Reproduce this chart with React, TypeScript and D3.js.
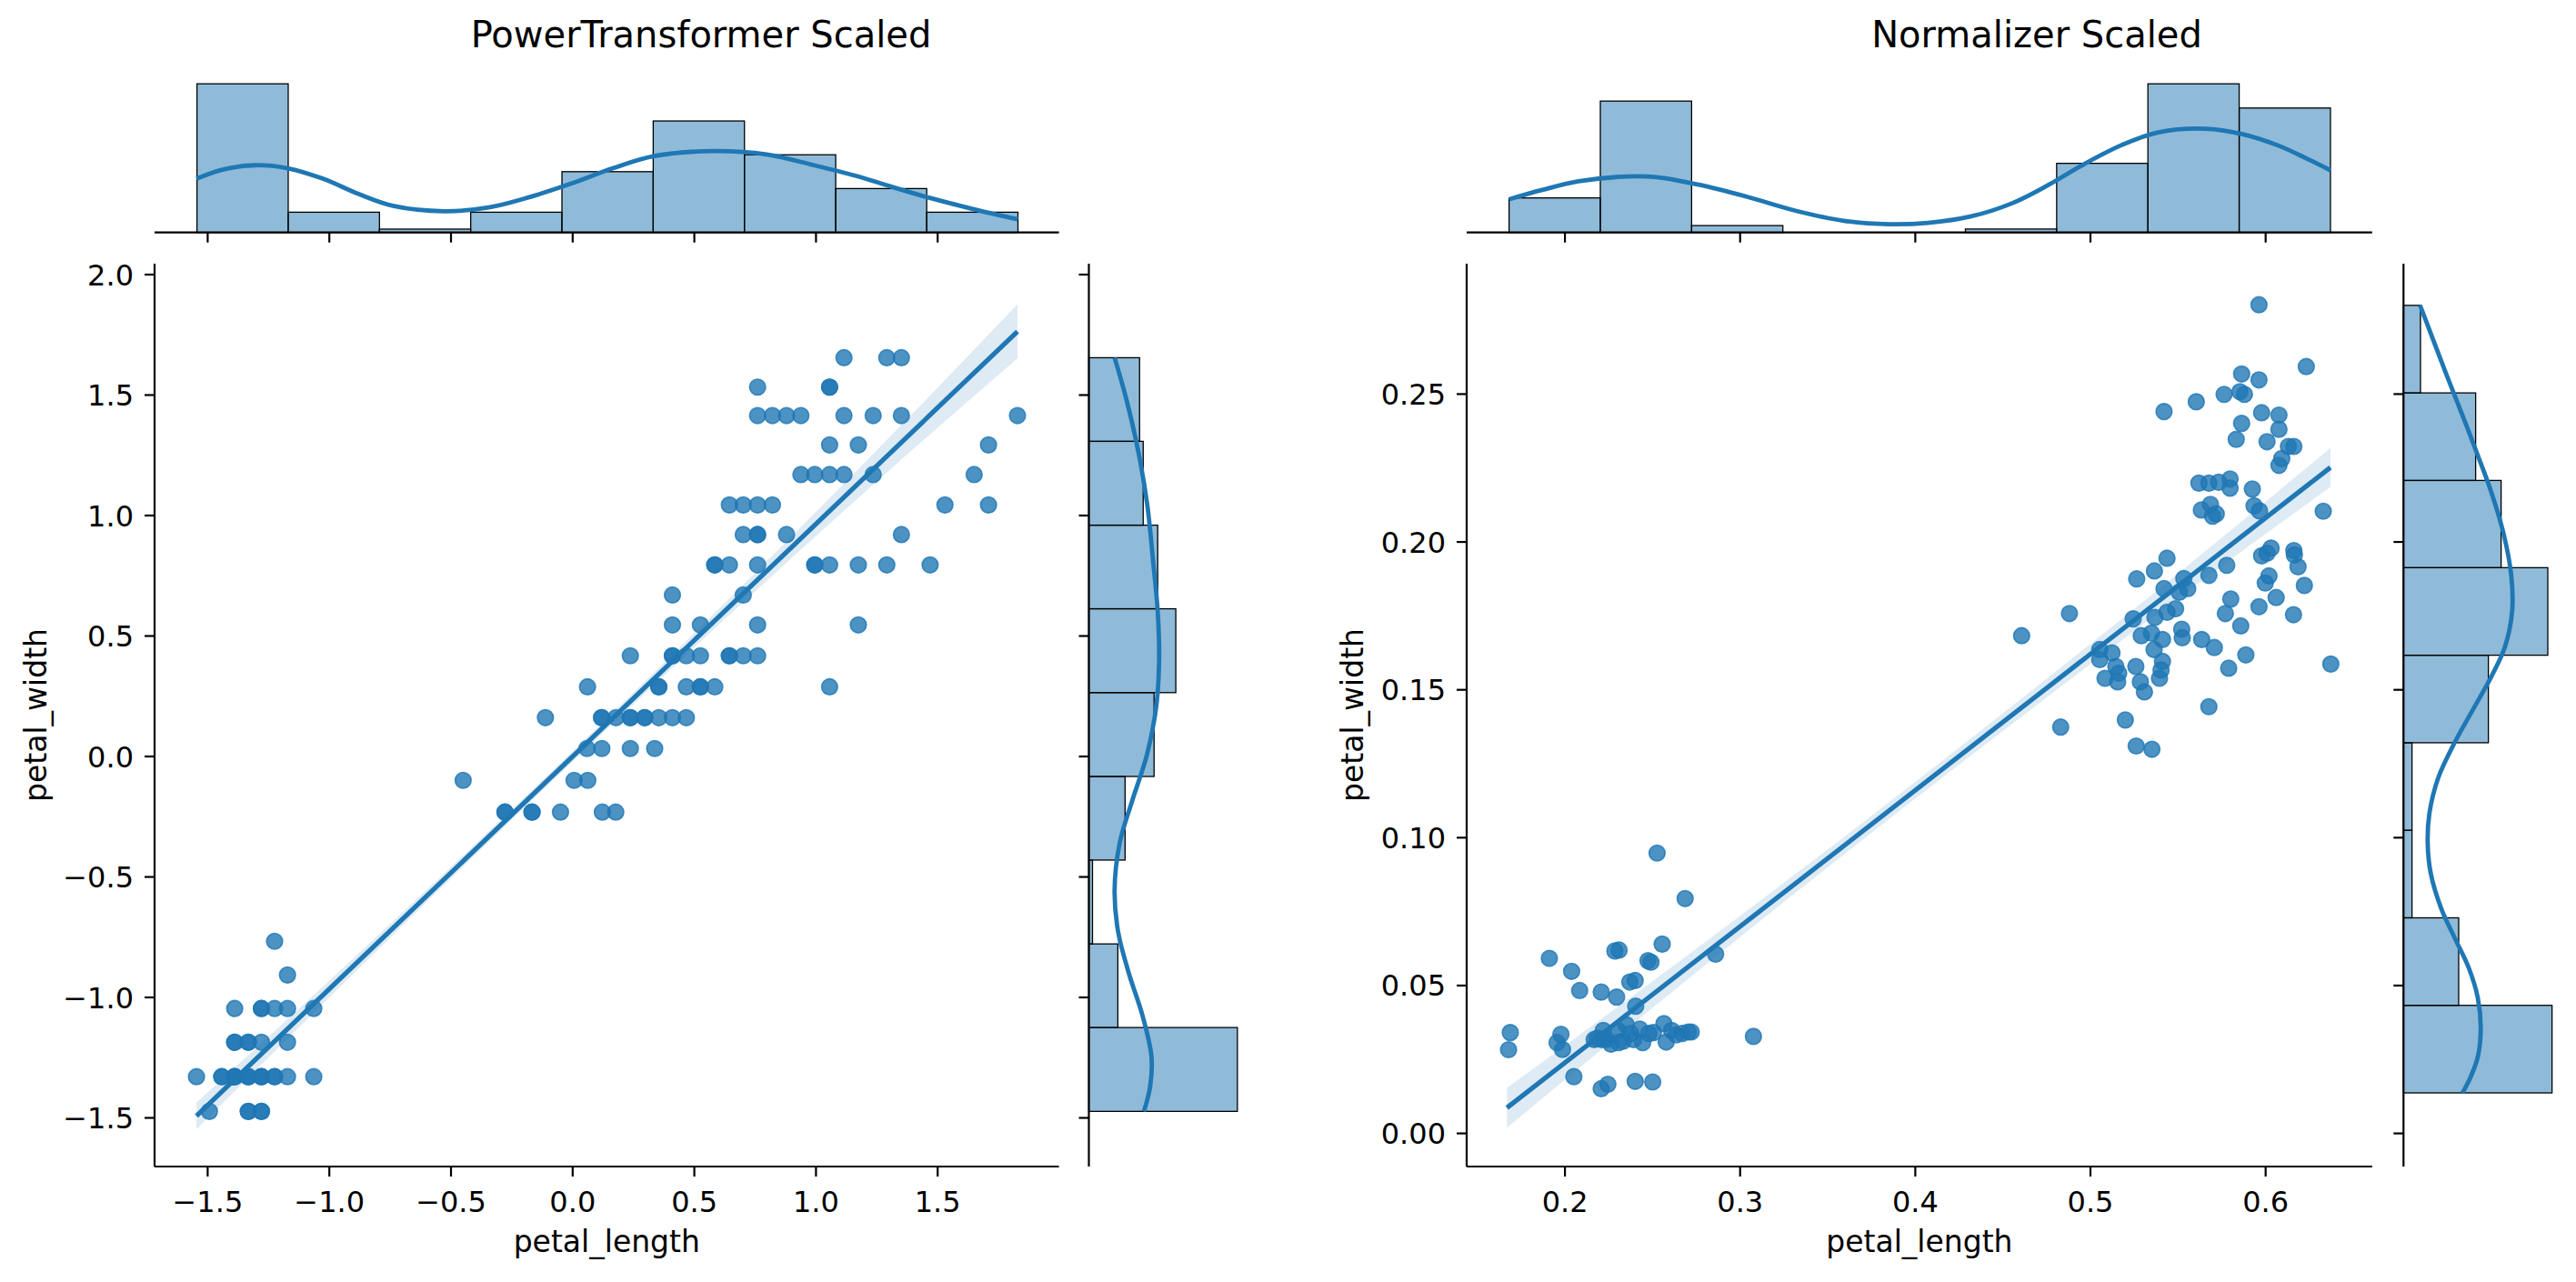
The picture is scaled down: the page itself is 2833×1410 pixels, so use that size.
import React from "react";
import * as d3 from "d3";

const W = 2833;
const H = 1410;
const BLUE = "#1f77b4";
const FONT = "DejaVu Sans, Verdana, sans-serif";

// ---------- PowerTransformer scaled (petal_length, petal_width) ----------
const ptPoints: [number, number][] = [
  [-1.493, -1.473], [-1.333, -1.473], [-1.333, -1.473], [-1.279, -1.473], [-1.279, -1.473],
  [-1.546, -1.329], [-1.442, -1.329], [-1.442, -1.329], [-1.389, -1.329], [-1.389, -1.329],
  [-1.389, -1.329], [-1.333, -1.329], [-1.333, -1.329], [-1.333, -1.329], [-1.279, -1.329],
  [-1.279, -1.329], [-1.279, -1.329], [-1.225, -1.329], [-1.225, -1.329], [-1.172, -1.329],
  [-1.064, -1.329],
  [-1.389, -1.186], [-1.389, -1.186], [-1.333, -1.186], [-1.333, -1.186], [-1.279, -1.186], [-1.172, -1.186],
  [-1.389, -1.046], [-1.279, -1.046], [-1.279, -1.046], [-1.225, -1.046], [-1.172, -1.046], [-1.064, -1.046],
  [-1.172, -0.907], [-1.225, -0.767],
  [-0.278, -0.231], [-0.278, -0.231], [-0.167, -0.231], [-0.167, -0.231], [-0.05, -0.231], [0.122, -0.231], [0.177, -0.231],
  [-0.45, -0.099], [0.006, -0.099], [0.062, -0.099],
  [0.059, 0.033], [0.12, 0.033], [0.237, 0.033], [0.337, 0.033],
  [-0.112, 0.161], [0.119, 0.161], [0.119, 0.161], [0.178, 0.161], [0.237, 0.161], [0.237, 0.161],
  [0.296, 0.161], [0.296, 0.161], [0.354, 0.161], [0.41, 0.161], [0.467, 0.161],
  [0.061, 0.289], [0.354, 0.289], [0.354, 0.289], [0.467, 0.289], [0.525, 0.289], [0.525, 0.289],
  [0.584, 0.289], [1.056, 0.289],
  [0.237, 0.418], [0.41, 0.418], [0.41, 0.418], [0.467, 0.418], [0.525, 0.418], [0.644, 0.418],
  [0.644, 0.418], [0.701, 0.418], [0.76, 0.418],
  [0.41, 0.546], [0.525, 0.546], [0.76, 0.546], [1.174, 0.546],
  [0.41, 0.67], [0.701, 0.67],
  [0.584, 0.795], [0.584, 0.795], [0.644, 0.795], [0.76, 0.795], [0.995, 0.795], [0.995, 0.795],
  [1.056, 0.795], [1.174, 0.795], [1.291, 0.795], [1.469, 0.795],
  [0.701, 0.921], [0.76, 0.921], [0.76, 0.921], [0.879, 0.921], [1.351, 0.921],
  [0.644, 1.044], [0.701, 1.044], [0.76, 1.044], [0.821, 1.044], [1.53, 1.044], [1.709, 1.044],
  [0.938, 1.17], [0.995, 1.17], [1.056, 1.17], [1.115, 1.17], [1.235, 1.17], [1.65, 1.17],
  [1.056, 1.293], [1.174, 1.293], [1.709, 1.293],
  [0.76, 1.415], [0.821, 1.415], [0.879, 1.415], [0.938, 1.415], [1.115, 1.415], [1.235, 1.415],
  [1.351, 1.415], [1.828, 1.415],
  [0.76, 1.533], [1.056, 1.533], [1.056, 1.533],
  [1.115, 1.655], [1.291, 1.655], [1.351, 1.655],
];
const ptFit = { x0: -1.546, x1: 1.828, slope: 0.965, intercept: 0.0 };
const ptBand: [number, number][] = [
  [-1.546, 0.055], [-1.0, 0.035], [-0.5, 0.024], [0, 0.022], [0.5, 0.03], [1.0, 0.05], [1.4, 0.075], [1.828, 0.112],
];
const ptLengthEdges = [-1.544, -1.169, -0.794, -0.419, -0.044, 0.331, 0.706, 1.081, 1.455, 1.83];
const ptLengthCounts = [44, 6, 1, 6, 18, 33, 23, 13, 6];
const ptWidthEdges = [-1.473, -1.125, -0.778, -0.43, -0.083, 0.265, 0.613, 0.96, 1.308, 1.655];
const ptWidthCounts = [41, 8, 1, 10, 18, 24, 19, 15, 14];
const ptLengthKde: [number, number][] = [
  [-1.546, 15.9], [-1.439, 18.6], [-1.306, 19.9], [-1.172, 19.0], [-1.026, 15.9], [-0.88, 11.4],
  [-0.734, 7.8], [-0.528, 6.3], [-0.345, 7.4], [-0.175, 10.5], [-0.005, 14.5], [0.165, 19.0],
  [0.335, 22.6], [0.578, 24.1], [0.797, 23.1], [0.992, 19.9], [1.162, 16.8], [1.308, 13.6],
  [1.454, 10.5], [1.648, 6.9], [1.83, 3.9],
];
const ptWidthKde: [number, number][] = [
  [-1.473, 15.2], [-1.371, 16.9], [-1.248, 17.3], [-1.075, 14.8], [-0.903, 11.1], [-0.73, 8.1],
  [-0.557, 7.1], [-0.36, 8.5], [-0.187, 11.9], [0.011, 16.1], [0.208, 18.6], [0.405, 19.4],
  [0.603, 19.0], [0.8, 17.8], [1.047, 16.1], [1.269, 13.6], [1.491, 10.2], [1.655, 7.1],
];
const ptXTicks = [-1.5, -1.0, -0.5, 0.0, 0.5, 1.0, 1.5];
const ptYTicks = [-1.5, -1.0, -0.5, 0.0, 0.5, 1.0, 1.5, 2.0];

// ---------- Normalizer scaled ----------
const nmPoints: [number, number][] = [
  [0.2526, 0.0948], [0.2686, 0.0794], [0.2555, 0.064], [0.286, 0.0606], [0.2285, 0.0617], [0.2309, 0.062],
  [0.1911, 0.0592], [0.2474, 0.0584], [0.2491, 0.0579], [0.2038, 0.0548], [0.237, 0.0512], [0.2401, 0.0517],
  [0.2084, 0.0483], [0.2207, 0.0478], [0.2295, 0.0461], [0.2404, 0.043], [0.1688, 0.0341], [0.1678, 0.0283],
  [0.1977, 0.0335], [0.1955, 0.0307], [0.1986, 0.0284], [0.2185, 0.0322], [0.2211, 0.0317], [0.2219, 0.0348],
  [0.2237, 0.0317], [0.2263, 0.0302], [0.2302, 0.0348], [0.2332, 0.0312], [0.2349, 0.0368], [0.2375, 0.0338],
  [0.2392, 0.0317], [0.2427, 0.0353], [0.2444, 0.0307], [0.2505, 0.0341], [0.2565, 0.0371], [0.2578, 0.0309],
  [0.2609, 0.0348], [0.2635, 0.0333], [0.2669, 0.0338], [0.2704, 0.0343], [0.2721, 0.0343], [0.3076, 0.0328],
  [0.2051, 0.0192], [0.2207, 0.0151], [0.2245, 0.0166], [0.2401, 0.0176], [0.2501, 0.0174],
  [0.2167, 0.0317], [0.2306, 0.0307], [0.2479, 0.0338],
  [0.5962, 0.2802], [0.6232, 0.2593], [0.5863, 0.2568], [0.5962, 0.2548], [0.5763, 0.2499], [0.5853, 0.2508],
  [0.5879, 0.2499], [0.5604, 0.2474], [0.542, 0.2441], [0.5977, 0.2437], [0.6076, 0.2429], [0.5863, 0.2401],
  [0.6076, 0.2381], [0.5832, 0.2347], [0.6008, 0.2339], [0.613, 0.2323], [0.6161, 0.2323], [0.6092, 0.2282],
  [0.6076, 0.2259], [0.5619, 0.2199], [0.5676, 0.2199], [0.5732, 0.2202], [0.5797, 0.2213], [0.5797, 0.2182],
  [0.5924, 0.2179], [0.5633, 0.2108], [0.5685, 0.2127], [0.5697, 0.2087], [0.5718, 0.2095], [0.5934, 0.2122],
  [0.5965, 0.2105], [0.6329, 0.2104], [0.5437, 0.1945], [0.5365, 0.1902], [0.5264, 0.1875], [0.6031, 0.1979],
  [0.5977, 0.1953], [0.6008, 0.1962], [0.6161, 0.1971], [0.6164, 0.1956], [0.6185, 0.1916], [0.5778, 0.1921],
  [0.5676, 0.1887], [0.5533, 0.1876], [0.5555, 0.1842], [0.542, 0.1842], [0.6019, 0.1885], [0.5998, 0.1861],
  [0.6221, 0.1853], [0.5801, 0.1807], [0.577, 0.1758], [0.606, 0.1812], [0.5962, 0.1781], [0.6159, 0.1754],
  [0.5507, 0.183], [0.5486, 0.1774], [0.5437, 0.1762], [0.5368, 0.1745], [0.5244, 0.174], [0.488, 0.1758],
  [0.4607, 0.1683], [0.5521, 0.1705], [0.5524, 0.1676], [0.5858, 0.1716], [0.529, 0.1683], [0.5348, 0.1692],
  [0.5411, 0.167], [0.5635, 0.167], [0.5707, 0.1643], [0.5363, 0.1636], [0.5053, 0.1636], [0.5123, 0.1625],
  [0.5053, 0.1602], [0.5887, 0.1618], [0.6372, 0.1587], [0.5145, 0.1579], [0.5161, 0.1556], [0.5083, 0.1539],
  [0.5155, 0.1527], [0.5259, 0.1579], [0.5411, 0.1596], [0.5403, 0.1567], [0.5394, 0.1539], [0.5285, 0.1527],
  [0.5308, 0.1493], [0.5789, 0.1573], [0.5676, 0.1443], [0.5199, 0.1398], [0.483, 0.1374], [0.5261, 0.131],
  [0.5351, 0.1299],
];
const nmFit = { x0: 0.1669, x1: 0.637, slope: 0.4606, intercept: -0.0682 };
const nmBand: [number, number][] = [
  [0.1669, 0.0067], [0.25, 0.0045], [0.35, 0.003], [0.45, 0.003], [0.55, 0.0042], [0.637, 0.0066],
];
const nmLengthEdges = [0.1681, 0.2202, 0.2723, 0.3244, 0.3765, 0.4286, 0.4807, 0.5328, 0.5849, 0.637];
const nmLengthCounts = [10, 38, 2, 0, 0, 1, 20, 43, 36];
const nmWidthEdges = [0.0137, 0.0433, 0.0729, 0.1025, 0.1321, 0.1617, 0.1913, 0.2208, 0.2504, 0.28];
const nmWidthCounts = [35, 13, 2, 2, 20, 34, 23, 17, 4];
const nmLengthKde: [number, number][] = [
  [0.1681, 9.6], [0.187, 12.3], [0.2077, 14.8], [0.2352, 16.2], [0.2524, 16.0], [0.2765, 13.8],
  [0.3041, 10.3], [0.3316, 6.3], [0.3592, 3.4], [0.385, 2.4], [0.4073, 2.8], [0.4314, 4.6],
  [0.4555, 8.5], [0.4762, 13.8], [0.4968, 19.9], [0.5174, 25.2], [0.5381, 28.9], [0.5656, 30.0],
  [0.5863, 28.5], [0.607, 25.2], [0.6242, 21.2], [0.637, 18.0],
];
const nmWidthKde: [number, number][] = [
  [0.0137, 13.9], [0.0187, 15.7], [0.0258, 17.5], [0.0358, 18.2], [0.0459, 17.5], [0.0559, 15.4],
  [0.066, 12.1], [0.076, 8.9], [0.0881, 6.4], [0.0982, 5.7], [0.1082, 6.1], [0.1203, 8.2],
  [0.1323, 12.1], [0.1434, 16.4], [0.1545, 20.7], [0.1645, 23.9], [0.1766, 25.6], [0.1886, 25.4],
  [0.2027, 23.6], [0.2168, 20.7], [0.2308, 17.1], [0.2439, 13.6], [0.257, 10.0], [0.2691, 6.8],
  [0.28, 3.9],
];
const nmXTicks = [0.2, 0.3, 0.4, 0.5, 0.6];
const nmYTicks = [0.0, 0.05, 0.1, 0.15, 0.2, 0.25];

type Box = {
  left: number; right: number; top: number; bottom: number;
  margTop: number; margBottom: number; margLeft: number; margRight: number;
};

type JointProps = {
  title: string;
  titleX: number;
  yLabelX: number;
  points: [number, number][];
  fit: { x0: number; x1: number; slope: number; intercept: number };
  band: [number, number][];
  xEdges: number[];
  xCounts: number[];
  yEdges: number[];
  yCounts: number[];
  xKde: [number, number][];
  yKde: [number, number][];
  xDomain: [number, number];
  yDomain: [number, number];
  xTicks: number[];
  yTicks: number[];
  xFmt: (v: number) => string;
  yFmt: (v: number) => string;
  box: Box;
};

const TICK = 11;
const SPINE = 2.2;

function JointPlot(p: JointProps) {
  const b = p.box;
  const x = d3.scaleLinear().domain(p.xDomain).range([b.left, b.right]);
  const y = d3.scaleLinear().domain(p.yDomain).range([b.bottom, b.top]);
  // marginal count axes, 5% headroom like matplotlib autoscale
  const cTop = d3
    .scaleLinear()
    .domain([0, (d3.max(p.xCounts) as number) * 1.05])
    .range([b.margBottom, b.margTop]);
  const cRight = d3
    .scaleLinear()
    .domain([0, (d3.max(p.yCounts) as number) * 1.05])
    .range([b.margLeft, b.margRight]);

  const kdeTop = d3
    .line<[number, number]>()
    .x((d) => x(d[0]))
    .y((d) => cTop(d[1]))
    .curve(d3.curveCatmullRom);
  const kdeRight = d3
    .line<[number, number]>()
    .x((d) => cRight(d[1]))
    .y((d) => y(d[0]))
    .curve(d3.curveCatmullRom);

  const fitY = (v: number) => p.fit.intercept + p.fit.slope * v;
  const bandArea = d3
    .area<[number, number]>()
    .x((d) => x(d[0]))
    .y0((d) => y(fitY(d[0]) - d[1]))
    .y1((d) => y(fitY(d[0]) + d[1]))
    .curve(d3.curveMonotoneX);

  return (
    <g>
      <text x={p.titleX} y={52} textAnchor="middle" fontSize={40} fontFamily={FONT} fill="#000">
        {p.title}
      </text>

      {/* top marginal histogram */}
      {p.xCounts.map((c, i) =>
        c > 0 ? (
          <rect
            key={"tx" + i}
            x={x(p.xEdges[i])}
            y={cTop(c)}
            width={x(p.xEdges[i + 1]) - x(p.xEdges[i])}
            height={cTop(0) - cTop(c)}
            fill={BLUE}
            fillOpacity={0.5}
            stroke="#000"
            strokeWidth={1.3}
          />
        ) : null
      )}
      <path d={kdeTop(p.xKde) || ""} fill="none" stroke={BLUE} strokeWidth={4.8} />
      <line x1={b.left} x2={b.right} y1={b.margBottom} y2={b.margBottom} stroke="#000" strokeWidth={SPINE} />
      {p.xTicks.map((t) => (
        <line key={"mt" + t} x1={x(t)} x2={x(t)} y1={b.margBottom} y2={b.margBottom + TICK} stroke="#000" strokeWidth={SPINE} />
      ))}

      {/* right marginal histogram */}
      {p.yCounts.map((c, i) =>
        c > 0 ? (
          <rect
            key={"ry" + i}
            x={cRight(0)}
            y={y(p.yEdges[i + 1])}
            width={cRight(c) - cRight(0)}
            height={y(p.yEdges[i]) - y(p.yEdges[i + 1])}
            fill={BLUE}
            fillOpacity={0.5}
            stroke="#000"
            strokeWidth={1.3}
          />
        ) : null
      )}
      <path d={kdeRight(p.yKde) || ""} fill="none" stroke={BLUE} strokeWidth={4.8} />
      <line x1={b.margLeft} x2={b.margLeft} y1={b.top} y2={b.bottom} stroke="#000" strokeWidth={SPINE} />
      {p.yTicks.map((t) => (
        <line key={"mr" + t} x1={b.margLeft - TICK} x2={b.margLeft} y1={y(t)} y2={y(t)} stroke="#000" strokeWidth={SPINE} />
      ))}

      {/* joint scatter + regression */}
      {p.points.map((d, i) => (
        <circle
          key={"p" + i}
          cx={x(d[0])}
          cy={y(d[1])}
          r={8.8}
          fill={BLUE}
          fillOpacity={0.8}
          stroke={BLUE}
          strokeOpacity={0.8}
          strokeWidth={1.6}
        />
      ))}
      <path d={bandArea(p.band) || ""} fill={BLUE} fillOpacity={0.15} />
      <line
        x1={x(p.fit.x0)}
        y1={y(fitY(p.fit.x0))}
        x2={x(p.fit.x1)}
        y2={y(fitY(p.fit.x1))}
        stroke={BLUE}
        strokeWidth={5.2}
      />

      {/* axes */}
      <line x1={b.left} x2={b.left} y1={b.top} y2={b.bottom} stroke="#000" strokeWidth={SPINE} />
      <line x1={b.left} x2={b.right} y1={b.bottom} y2={b.bottom} stroke="#000" strokeWidth={SPINE} />
      {p.xTicks.map((t) => (
        <g key={"xt" + t}>
          <line x1={x(t)} x2={x(t)} y1={b.bottom} y2={b.bottom + TICK} stroke="#000" strokeWidth={SPINE} />
          <text x={x(t)} y={b.bottom + 50} textAnchor="middle" fontSize={32} fontFamily={FONT} fill="#000">
            {p.xFmt(t)}
          </text>
        </g>
      ))}
      {p.yTicks.map((t) => (
        <g key={"yt" + t}>
          <line x1={b.left - TICK} x2={b.left} y1={y(t)} y2={y(t)} stroke="#000" strokeWidth={SPINE} />
          <text x={b.left - 23} y={y(t)} dy="0.36em" textAnchor="end" fontSize={32} fontFamily={FONT} fill="#000">
            {p.yFmt(t)}
          </text>
        </g>
      ))}
      <text x={(b.left + b.right) / 2} y={b.bottom + 94} textAnchor="middle" fontSize={33} fontFamily={FONT} fill="#000">
        petal_length
      </text>
      <text
        transform={`translate(${p.yLabelX},${(b.top + b.bottom) / 2}) rotate(-90)`}
        textAnchor="middle"
        fontSize={33}
        fontFamily={FONT}
        fill="#000"
      >
        petal_width
      </text>
    </g>
  );
}

export default function App() {
  const f1 = d3.format(".1f");
  const f2 = d3.format(".2f");
  return (
    <svg
      width={W}
      height={H}
      viewBox={`0 0 ${W} ${H}`}
      style={{ position: "absolute", left: 0, top: 0, background: "#fff" }}
    >
      <rect width={W} height={H} fill="#fff" />
      <JointPlot
        title="PowerTransformer Scaled"
        titleX={771}
        yLabelX={51}
        points={ptPoints}
        fit={ptFit}
        band={ptBand}
        xEdges={ptLengthEdges}
        xCounts={ptLengthCounts}
        yEdges={ptWidthEdges}
        yCounts={ptWidthCounts}
        xKde={ptLengthKde}
        yKde={ptWidthKde}
        xDomain={[-1.7182, 1.9985]}
        yDomain={[-1.7019, 2.0453]}
        xTicks={ptXTicks}
        yTicks={ptYTicks}
        xFmt={f1}
        yFmt={f1}
        box={{ left: 170, right: 1164.6, top: 290, bottom: 1283, margTop: 84, margBottom: 255.7, margLeft: 1197.5, margRight: 1369 }}
      />
      <JointPlot
        title="Normalizer Scaled"
        titleX={2240}
        yLabelX={1499}
        points={nmPoints}
        fit={nmFit}
        band={nmBand}
        xEdges={nmLengthEdges}
        xCounts={nmLengthCounts}
        yEdges={nmWidthEdges}
        yCounts={nmWidthCounts}
        xKde={nmLengthKde}
        yKde={nmWidthKde}
        xDomain={[0.1439, 0.6608]}
        yDomain={[-0.0112, 0.2941]}
        xTicks={nmXTicks}
        yTicks={nmYTicks}
        xFmt={f1}
        yFmt={f2}
        box={{ left: 1613, right: 2608.8, top: 290, bottom: 1283, margTop: 84, margBottom: 255.7, margLeft: 2643.3, margRight: 2814.8 }}
      />
    </svg>
  );
}
